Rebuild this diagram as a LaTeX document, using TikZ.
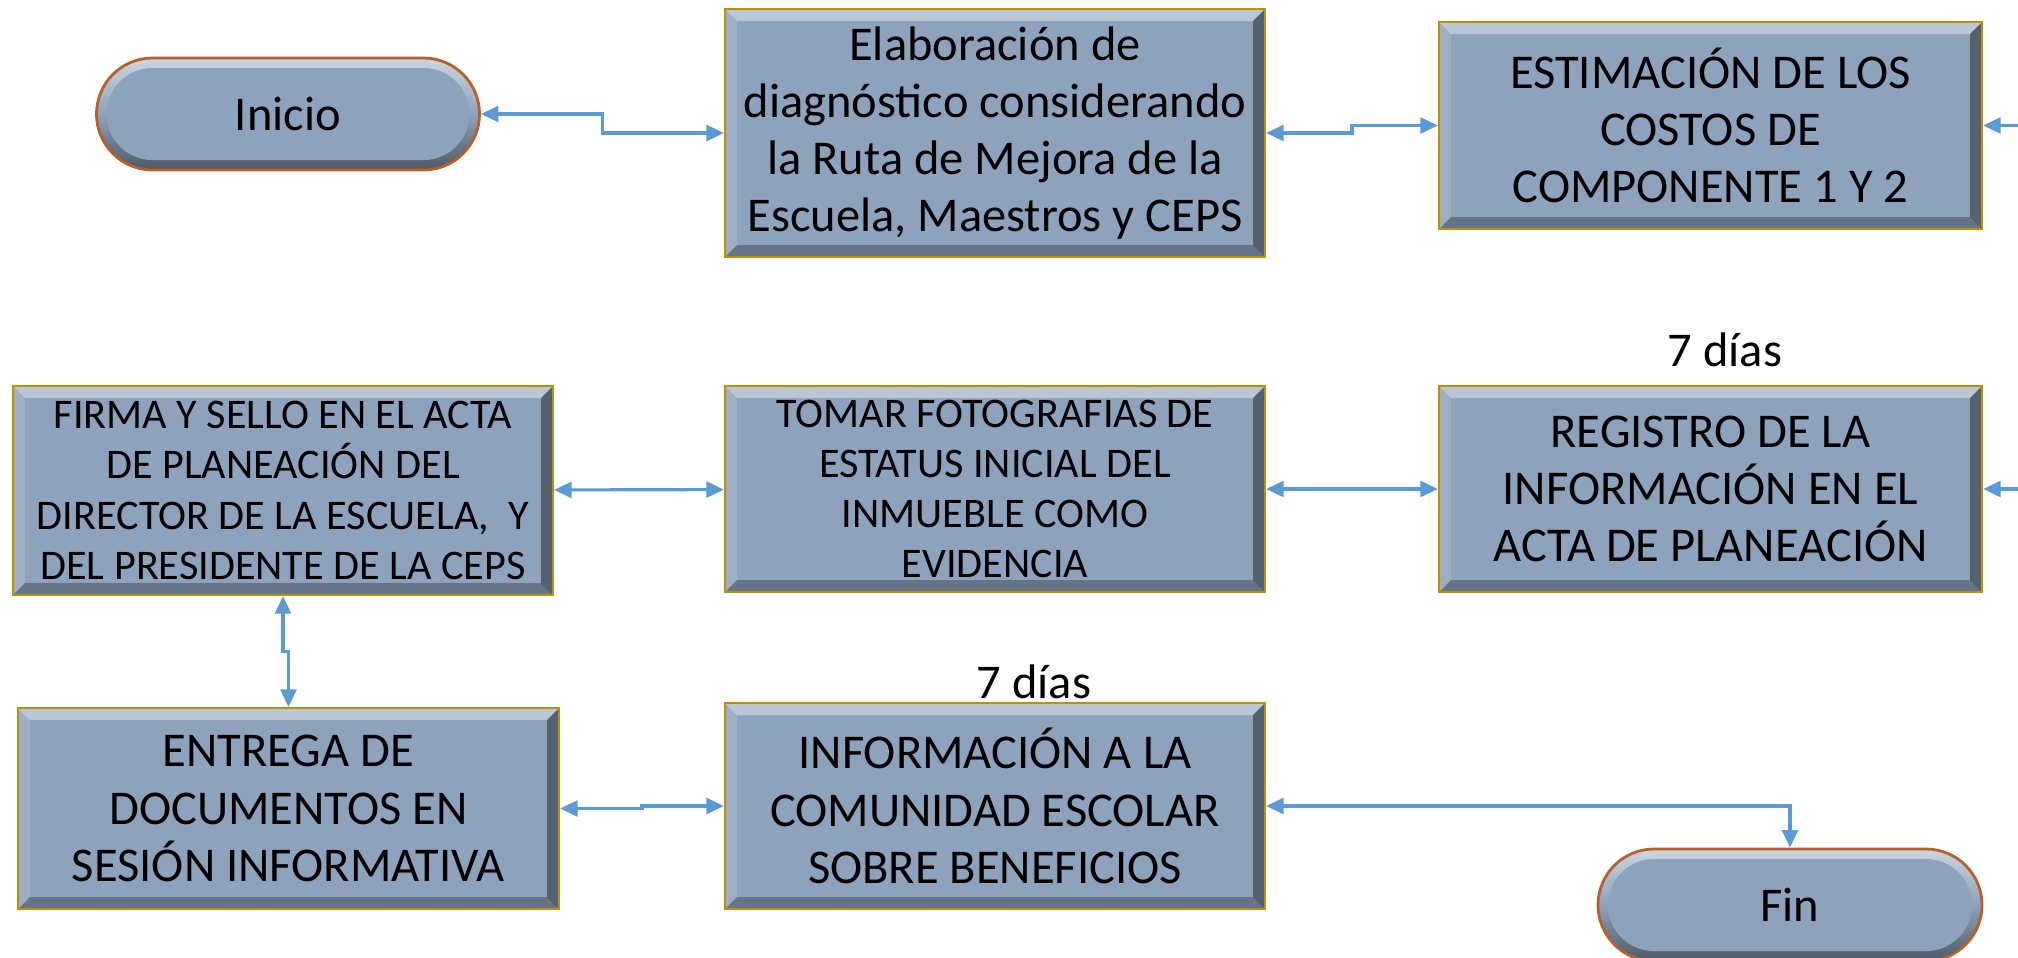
\documentclass[tikz,border=0pt]{standalone}
\usepackage{fontspec}
\setmainfont{Carlito}
\usetikzlibrary{calc,arrows.meta}
\definecolor{boxfill}{RGB}{141,162,187}
\definecolor{boxedge}{RGB}{191,144,0}
\definecolor{termedge}{RGB}{185,95,40}
\definecolor{linkblue}{RGB}{91,155,213}
\def\bevel{0.12}
\def\bigtxt{\fontsize{13.8}{16.3}\selectfont}
\def\smalltxt{\fontsize{12}{14.3}\selectfont}

\tikzset{
	bevelled/.style={path picture={
		\coordinate (pw) at (path picture bounding box.north west);
		\coordinate (pe) at (path picture bounding box.north east);
		\coordinate (se) at (path picture bounding box.south east);
		\coordinate (sw) at (path picture bounding box.south west);
		\fill[white,opacity=.4] (pw) -- (pe) -- ($(pe)+(-\bevel,-\bevel)$) -- ($(pw)+(\bevel,-\bevel)$) -- cycle;
		\fill[white,opacity=.15] (pw) -- (sw) -- ($(sw)+(\bevel,\bevel)$) -- ($(pw)+(\bevel,-\bevel)$) -- cycle;
		\fill[black,opacity=.4] (pe) -- (se) -- ($(se)+(-\bevel,\bevel)$) -- ($(pe)+(-\bevel,-\bevel)$) -- cycle;
		\fill[black,opacity=.28] (sw) -- (se) -- ($(se)+(-\bevel,\bevel)$) -- ($(sw)+(\bevel,\bevel)$) -- cycle;
	}},
	rimmed/.style={path picture={
		\fill[boxfill, rounded corners=0.46cm]
			($(path picture bounding box.north west)+(0.1,-0.1)$) rectangle ($(path picture bounding box.south east)+(-0.1,0.1)$);
	}},
	process/.style={bevelled, draw=boxedge, line width=0.6pt, fill=boxfill, align=center,
		minimum width=5.4cm, inner sep=0pt, font=\bigtxt},
	terminal/.style={rimmed, draw=termedge, line width=0.8pt, align=center,
		top color=boxfill!45!white, bottom color=boxfill!55!black, middle color=boxfill,
		minimum width=3.83cm, minimum height=1.12cm, rounded corners=0.56cm, font=\bigtxt},
	days/.style={font=\bigtxt},
	link/.style={draw=linkblue, line width=0.9pt, {Triangle[length=5pt,width=4.5pt]}-{Triangle[length=5pt,width=4.5pt]}},
	linkin/.style={draw=linkblue, line width=0.9pt, -{Triangle[length=5pt,width=4.5pt]}}
}

\begin{document}
\begin{tikzpicture}
	%%%%% START %%%%%
	\useasboundingbox (0,0) rectangle (20.18,-9.57);
	
	\node[terminal] (inicio) at (2.88, -1.14) {Inicio};
	\node[process, minimum height=2.48cm] (elab) at (9.95, -1.33)
		{Elaboración de\\diagnóstico considerando\\la Ruta de Mejora de la\\Escuela, Maestros y CEPS};
	\node[process, minimum width=5.43cm, minimum height=2.07cm] (estim) at (17.105, -1.255)
		{ESTIMACIÓN DE LOS\\COSTOS DE\\COMPONENTE 1 Y 2};
	
	\node[process, minimum height=2.09cm, font=\smalltxt] (firma) at (2.83, -4.905)
		{FIRMA Y SELLO EN EL ACTA\\DE PLANEACIÓN DEL\\DIRECTOR DE LA ESCUELA,\ \ Y\\DEL PRESIDENTE DE LA CEPS};
	\node[process, minimum height=2.06cm, font=\smalltxt] (fotos) at (9.95, -4.89)
		{TOMAR FOTOGRAFIAS DE\\ESTATUS INICIAL DEL\\INMUEBLE COMO\\EVIDENCIA};
	\node[process, minimum width=5.43cm, minimum height=2.06cm] (registro) at (17.105, -4.89)
		{REGISTRO DE LA\\INFORMACIÓN EN EL\\ACTA DE PLANEACIÓN};
	\node[days] (dias1) at (17.25, -3.50) {7 días};
	
	\node[process, minimum width=5.41cm, minimum height=2.01cm] (entrega) at (2.885, -8.085)
		{ENTREGA DE\\DOCUMENTOS EN\\SESIÓN INFORMATIVA};
	\node[process, minimum height=2.06cm] (info) at (9.95, -8.06)
		{INFORMACIÓN A LA\\COMUNIDAD ESCOLAR\\SOBRE BENEFICIOS};
	\node[days] (dias2) at (10.34, -6.82) {7 días};
	\node[terminal, minimum width=3.84cm] (fin) at (17.9, -9.05) {Fin};
	
	% connectors
	\draw[link] (inicio) -| ($(inicio.east)!.5!(elab.west)$) |- (elab);
	\draw[link] (elab) -| ($(elab.east)!.5!(estim.west)$) |- (estim);
	\draw[link] (firma) -- (fotos);
	\draw[link] (fotos) -| ($(fotos.east)!.5!(registro.west)$) |- (registro);
	\draw[link] (firma) |- ($(firma.south)!.5!(entrega.north)$) -| (entrega);
	\draw[link] (entrega) -| ($(entrega.east)!.5!(info.west)$) |- (info);
	\draw[link] (info) -| (fin);
	
	\coordinate (estimIn) at (20.4, -1.255);
	\coordinate (registroIn) at (20.4, -4.89);
	\draw[linkin] (estimIn) -- (estim);
	\draw[linkin] (registroIn) -- (registro);
	
	%%%%% END %%%%%
\end{tikzpicture}
\end{document}
